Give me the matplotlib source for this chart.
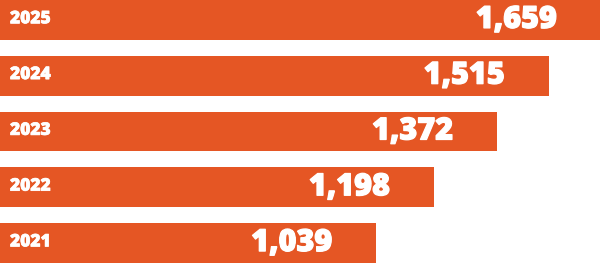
import matplotlib
matplotlib.use("Agg")
import matplotlib.pyplot as plt
import matplotlib.patheffects as pe

years = ["2021", "2022", "2023", "2024", "2025"]
values = [1039, 1198, 1372, 1515, 1659]
value_labels = ["1,039", "1,198", "1,372", "1,515", "1,659"]

color = "#E55624"

fig = plt.figure(figsize=(6.0, 2.63), dpi=100)
ax = fig.add_axes([0, 0, 1, 1])
pos = list(range(len(years)))
ax.barh(pos, values, height=40/56, color=color, edgecolor="none")
ax.set_xlim(0, 1657)
ax.set_ylim(-20/56, 4 + 20/56)
ax.axis("off")

px_per_unit = 600 / 1657
offset = 44 / px_per_unit
fam = ["Open Sans", "DejaVu Sans"]
for p, y, v, lab in zip(pos, years, values, value_labels):
    ax.text(10 / px_per_unit, p + 0.02, y, color="white", fontsize=12.5, fontweight="heavy",
            family=fam, va="center", ha="left",
            path_effects=[pe.withStroke(linewidth=0.5, foreground="white")])
    ax.text(v - offset, p, lab, color="white", fontsize=22, fontweight="heavy",
            family=fam, va="center", ha="right",
            path_effects=[pe.withStroke(linewidth=0.9, foreground="white")])

fig.savefig("out.png", dpi=100)
